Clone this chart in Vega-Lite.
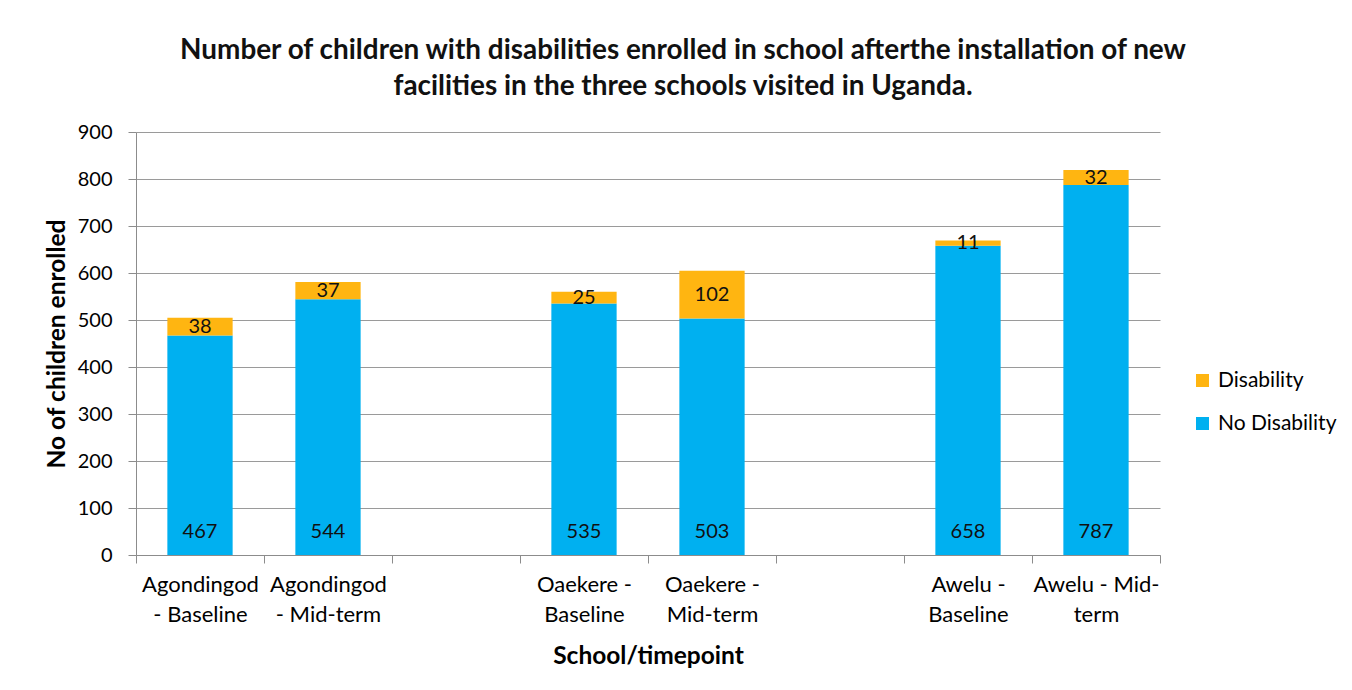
{
  "$schema": "https://vega.github.io/schema/vega-lite/v6.json",
  "width": 1024,
  "height": 423,
  "padding": {"left": 44, "top": 37, "right": 10, "bottom": 10},
  "background": "white",
  "config": {
    "font": "Lato",
    "view": {"stroke": null},
    "axis": {"labelFont": "Lato", "titleFont": "Lato", "labelColor": "#000", "titleColor": "#000"},
    "axisY": {
      "title": "No of children enrolled",
      "titleFontSize": 24.5,
      "titleFontWeight": "bold",
      "titlePadding": 8,
      "values": [0, 100, 200, 300, 400, 500, 600, 700, 800, 900],
      "labelFontSize": 20,
      "labelPadding": 16,
      "tickSize": 8,
      "tickColor": "#8c8c8c",
      "domainColor": "#8c8c8c",
      "gridColor": "#9a9a9a",
      "gridWidth": 1
    }
  },
  "title": {
    "text": ["Number of children with disabilities enrolled in school afterthe installation of new", "facilities in the three schools visited in Uganda."],
    "font": "Lato",
    "fontSize": 27.9,
    "fontWeight": "bold",
    "color": "#111",
    "lineHeight": 36,
    "anchor": "middle",
    "dx": 35,
    "offset": 21
  },
  "data": {
    "values": [
      {"cat": "Agondingod|- Baseline", "No Disability": 467, "Disability": 38},
      {"cat": "Agondingod|- Mid-term", "No Disability": 544, "Disability": 37},
      {"cat": "Oaekere -|Baseline", "No Disability": 535, "Disability": 25},
      {"cat": "Oaekere -|Mid-term", "No Disability": 503, "Disability": 102},
      {"cat": "Awelu -|Baseline", "No Disability": 658, "Disability": 11},
      {"cat": "Awelu - Mid-|term", "No Disability": 787, "Disability": 32}
    ]
  },
  "encoding": {
    "x": {
      "field": "cat",
      "type": "nominal",
      "sort": null,
      "scale": {
        "domain": ["Agondingod|- Baseline", "Agondingod|- Mid-term", "gap1", "Oaekere -|Baseline", "Oaekere -|Mid-term", "gap2", "Awelu -|Baseline", "Awelu - Mid-|term"],
        "paddingInner": 0,
        "paddingOuter": 0
      },
      "axis": {
        "title": "School/timepoint",
        "titleFontSize": 24.5,
        "titleFontWeight": "bold",
        "titlePadding": 19,
        "labelAngle": 0,
        "labelFontSize": 22,
        "labelLineHeight": 30,
        "labelPadding": 11,
        "labelExpr": "indexof(datum.label, 'gap') == 0 ? '' : split(datum.label, '|')",
        "tickBand": "extent",
        "tickSize": 8,
        "tickColor": "#8c8c8c",
        "domainColor": "#8c8c8c",
        "grid": false
      }
    }
  },
  "layer": [
    {
      "transform": [{"fold": ["No Disability", "Disability"], "as": ["type", "n"]}],
      "mark": {"type": "bar", "width": {"band": 0.51}},
      "encoding": {
        "y": {
          "field": "n",
          "type": "quantitative",
          "stack": "zero",
          "scale": {"domain": [0, 900]},
          "title": "No of children enrolled"
        },
        "color": {
          "field": "type",
          "type": "nominal",
          "scale": {"domain": ["Disability", "No Disability"], "range": ["#FFB511", "#00B0F0"]},
          "legend": {
            "title": null,
            "orient": "none",
            "legendX": 1056,
            "legendY": 238,
            "symbolType": "square",
            "symbolSize": 169,
            "symbolStrokeWidth": 0,
            "labelFontSize": 21,
            "labelFont": "Lato",
            "labelColor": "#000",
            "rowPadding": 21,
            "labelOffset": 5
          }
        },
        "order": {"field": "type", "sort": "descending"}
      }
    },
    {
      "transform": [{"calculate": "datum['No Disability'] + datum['Disability'] / 2", "as": "mid"}],
      "mark": {"type": "text", "fontSize": 20, "baseline": "middle", "align": "center", "color": "#111", "font": "Lato"},
      "encoding": {
        "y": {"field": "mid", "type": "quantitative", "title": "No of children enrolled"},
        "text": {"field": "Disability", "type": "quantitative"}
      }
    },
    {
      "mark": {"type": "text", "fontSize": 20, "baseline": "middle", "align": "center", "color": "#111", "font": "Lato", "dy": -23},
      "encoding": {
        "y": {"datum": 0, "type": "quantitative", "title": "No of children enrolled"},
        "text": {"field": "No Disability", "type": "quantitative"}
      }
    }
  ]
}
